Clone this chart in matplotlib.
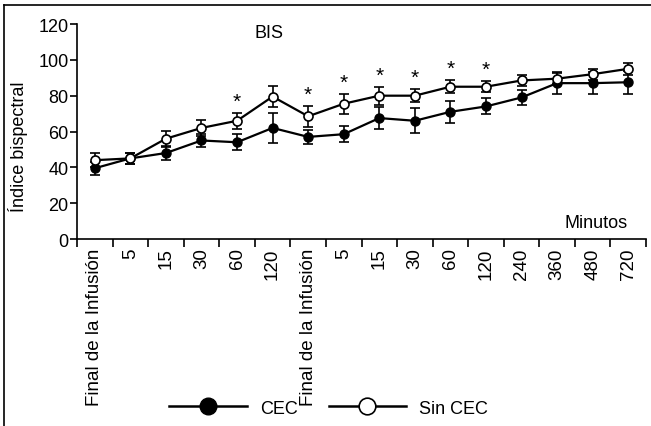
import matplotlib
matplotlib.use("Agg")
import matplotlib.pyplot as plt
from matplotlib.lines import Line2D
import numpy as np

plt.rcParams['font.family'] = ['Liberation Sans', 'DejaVu Sans']

categories = ["Final de la Infusión", "5", "15", "30", "60", "120",
              "Final de la Infusión", "5", "15", "30", "60", "120",
              "240", "360", "480", "720"]
cec = [39.5, 45, 48, 55, 54, 62, 57, 58.5, 67.5, 66, 71, 74, 79, 87, 87, 87.5]
cec_err = [3.5, 3, 4, 3.5, 4.5, 8.5, 4, 4.5, 6, 7, 6, 4.5, 4, 6, 6, 6.5]
sin_cec = [44, 45, 56, 62, 66, 79.5, 68.5, 75.5, 80, 80, 85, 85, 88.5, 89.5, 92, 95]
sin_cec_err = [4, 3, 4.5, 4.5, 4.5, 6, 6, 5.5, 5, 3.5, 3.5, 3, 3, 3, 3, 3.5]
signif = [4, 6, 7, 8, 9, 10, 11]

fig = plt.figure(figsize=(6.51, 4.27), dpi=100)
ax = fig.add_axes([0.1183, 0.4379, 0.8740, 0.5035])

x = np.arange(len(categories)) + 0.5
ax.errorbar(x, cec, yerr=cec_err, color='black', lw=1.6, marker='o',
            ms=6.5, mfc='black', mec='black', capsize=3.5, elinewidth=1.2,
            capthick=1.2, zorder=3)
ax.errorbar(x, sin_cec, yerr=sin_cec_err, color='black', lw=1.6, marker='o',
            ms=6.5, mfc='white', mec='black', mew=1.2, capsize=3.5,
            elinewidth=1.2, capthick=1.2, zorder=4)

for i in signif:
    ax.text(x[i], sin_cec[i] + sin_cec_err[i] + 6.5, '*', ha='center',
            va='center', fontsize=15)

ax.set_xlim(0, len(categories))
ax.set_ylim(0, 120)
ax.set_yticks(range(0, 121, 20))
ax.set_xticks(np.arange(len(categories) + 1))
ax.set_xticklabels([])
ax.set_xticks(x, minor=True)
ax.set_xticklabels(categories, minor=True, rotation=90, fontsize=13.5)
ax.tick_params(axis='x', which='minor', length=0, pad=6)
ax.tick_params(axis='x', which='major', length=6, width=1.2, direction='out')
ax.tick_params(axis='y', length=5, width=1.2, labelsize=13, pad=1)

for s in ['top', 'right']:
    ax.spines[s].set_visible(False)
for s in ['left', 'bottom']:
    ax.spines[s].set_linewidth(1.2)

ax.set_ylabel('Índice bispectral', fontsize=13)
ax.yaxis.set_label_coords(-0.086, 0.433)

ax.text(5.4, 115, 'BIS', ha='center', va='center', fontsize=13)
ax.text(14.6, 9, 'Minutos', ha='center', va='center', fontsize=13)

handles = [Line2D([], [], color='black', lw=1.8, marker='o', ms=12,
                  mfc='black', mec='black'),
           Line2D([], [], color='black', lw=1.8, marker='o', ms=12,
                  mfc='white', mec='black', mew=1.2)]
fig.legend(handles, ['CEC', 'Sin CEC'], loc='center',
           bbox_to_anchor=(0.505, 0.042), ncol=2, frameon=False,
           handlelength=4.3, handletextpad=0.72, columnspacing=1.7,
           fontsize=13)

fig.add_artist(Line2D([0.006, 0.006], [0.0, 0.986], color='black', lw=1.2,
                      transform=fig.transFigure))
fig.add_artist(Line2D([0.006, 1.0], [0.986, 0.986], color='black', lw=1.2,
                      transform=fig.transFigure))

fig.savefig('out.png', dpi=100)
